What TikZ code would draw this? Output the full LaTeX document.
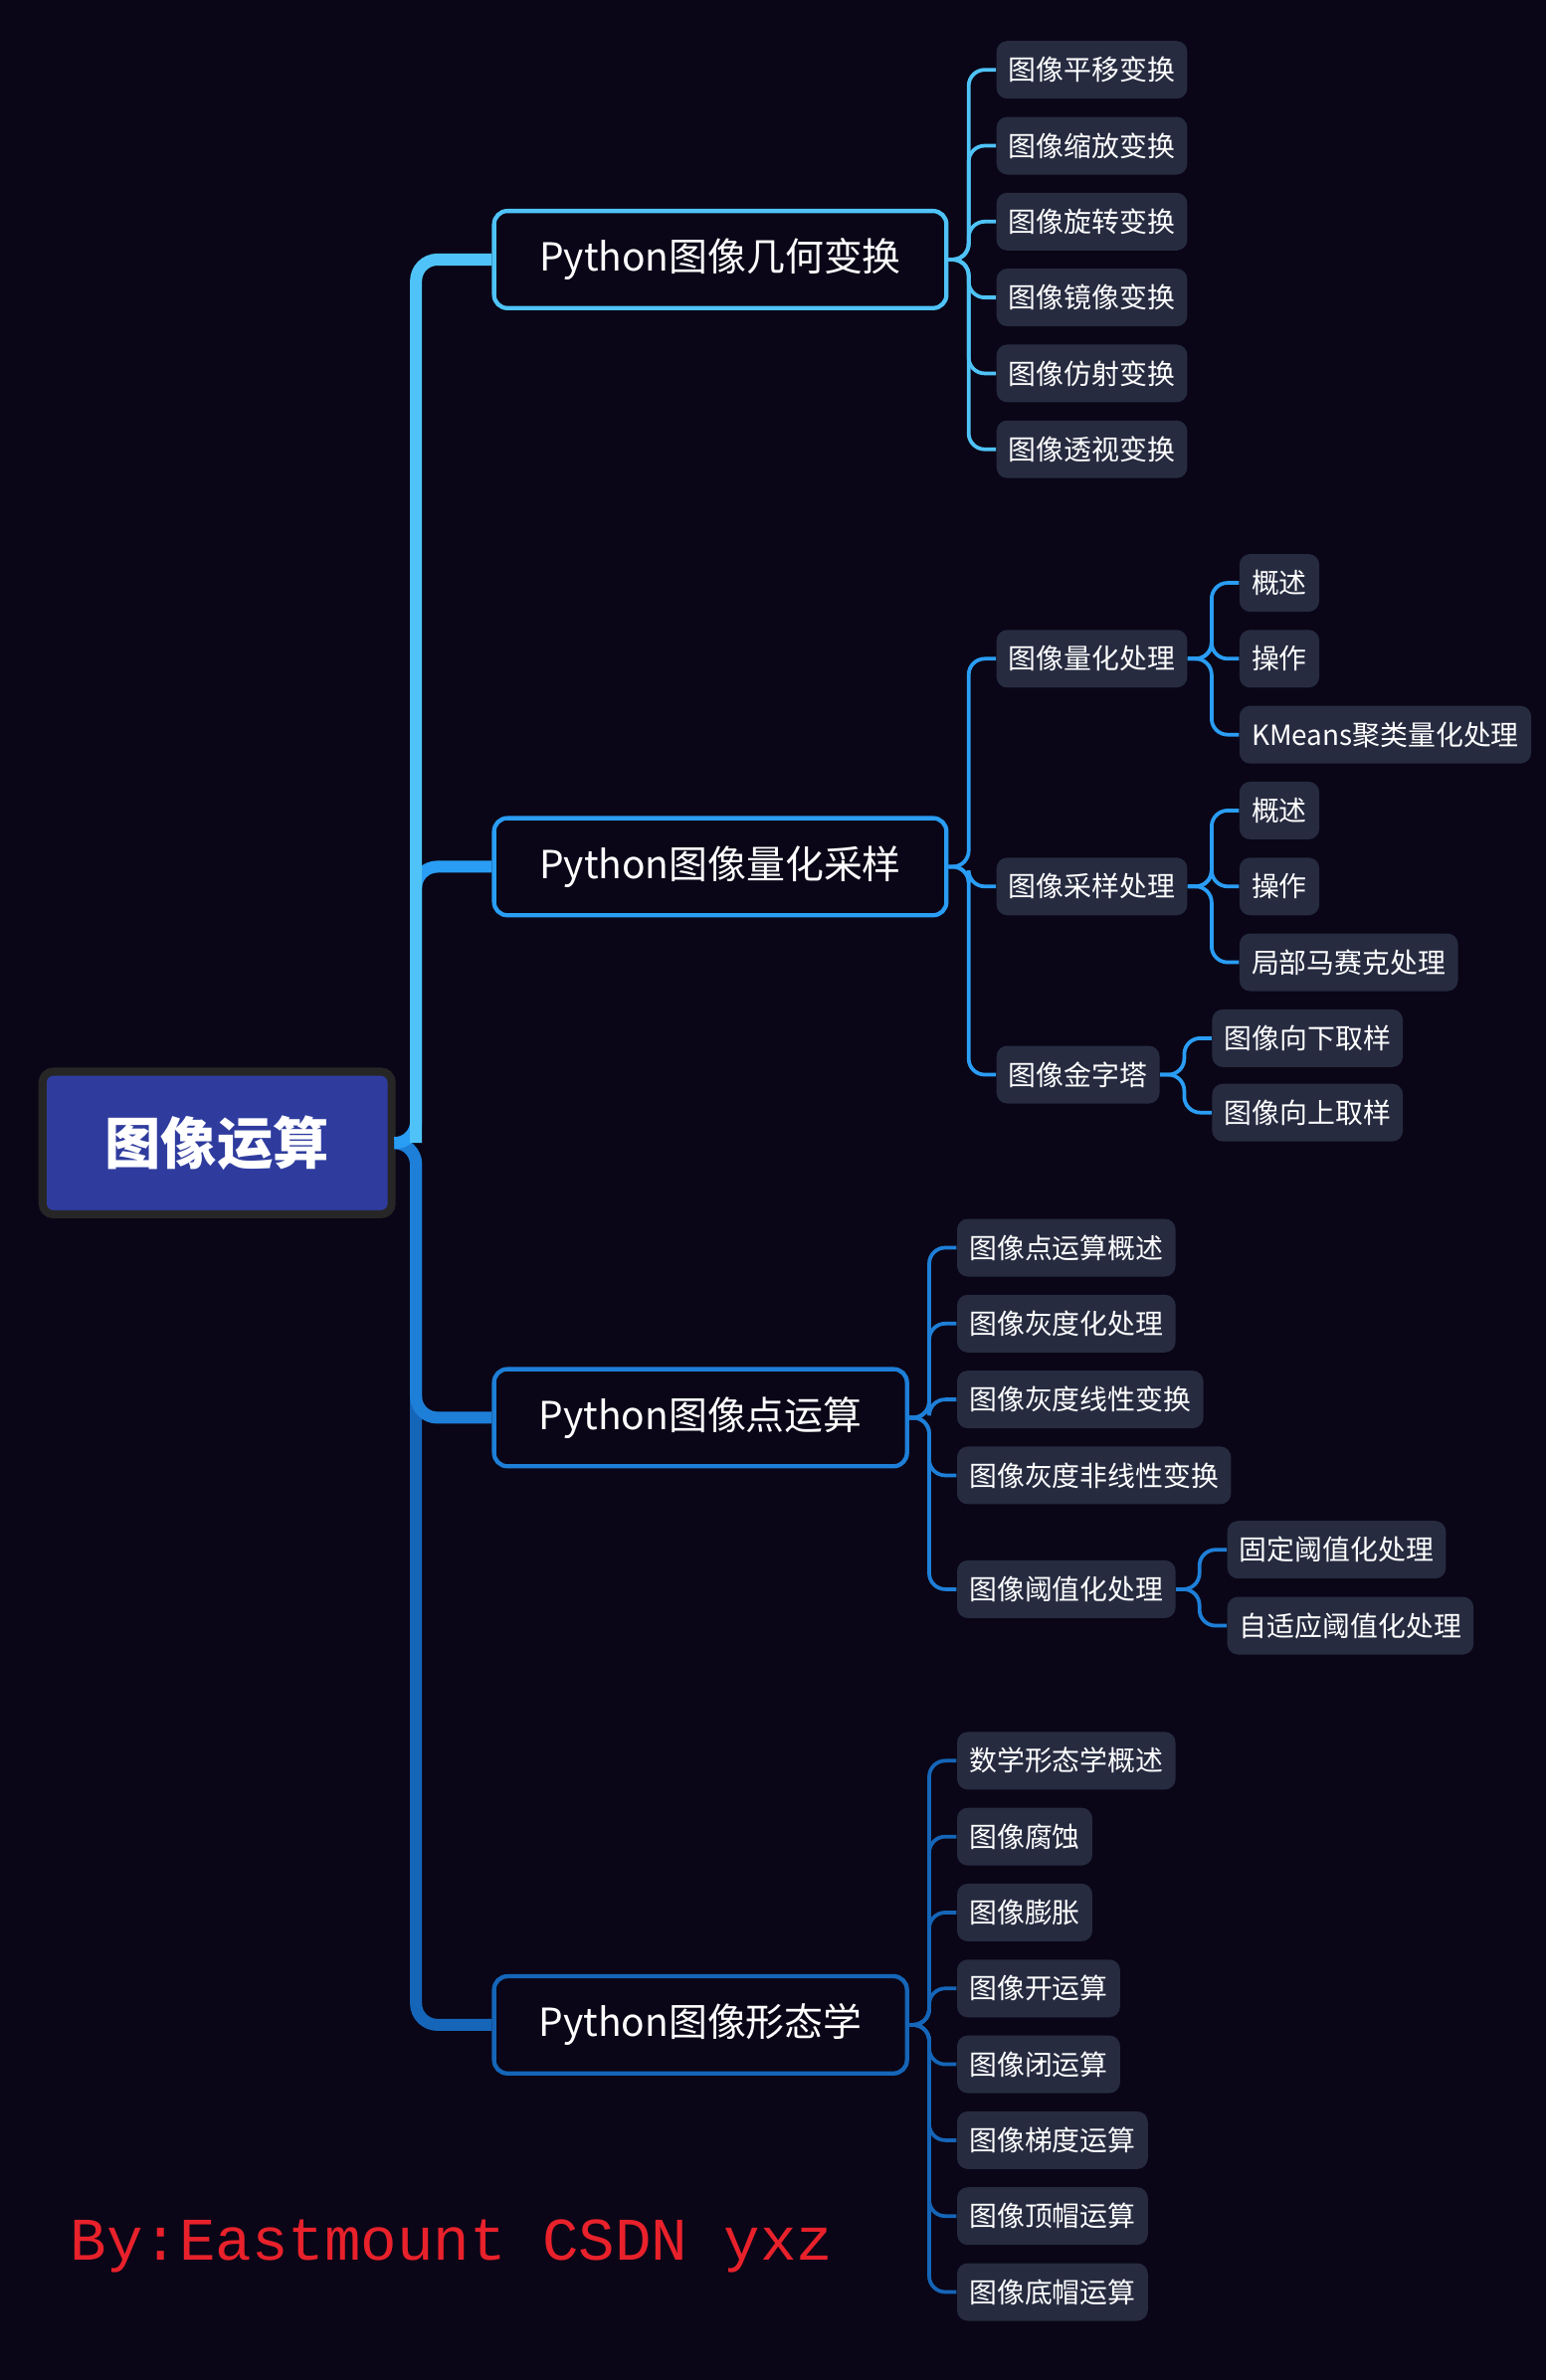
\documentclass[tikz,border=0pt]{standalone}
\usepackage{fontspec}
\setmainfont{Noto Sans CJK SC}
\setmonofont{Liberation Mono}
\usetikzlibrary{positioning}
\definecolor{bgdark}{HTML}{0A0617}
\definecolor{leaffill}{HTML}{262B40}
\definecolor{rootfill}{HTML}{2F3C9E}
\definecolor{cA}{HTML}{4FC3F7}
\definecolor{cB}{HTML}{2A9DF4}
\definecolor{cC}{HTML}{1E7FD8}
\definecolor{cD}{HTML}{1565B8}
\definecolor{signred}{HTML}{E8212B}
\begin{document}
\begin{tikzpicture}[x=0.02cm, y=-0.02cm,
    root/.style={draw=black!70!gray, line width=3pt, fill=rootfill, rounded corners=4pt,
        minimum width=4.6cm, minimum height=1.88cm, text=white, font=\fontsize{21}{24}\selectfont\bfseries},
    topic/.style={draw=#1, line width=1.6pt, fill=bgdark, rounded corners=5pt, anchor=west,
        minimum height=1.28cm, text=white, font=\fontsize{14.5}{17}\selectfont},
    leaf/.style={fill=leaffill, rounded corners=4pt, anchor=west, minimum height=0.76cm,
        inner xsep=0.16cm, text=white, font=\fontsize{10.4}{12}\selectfont},
    trunk/.style={line width=4.5pt, rounded corners=8pt},
    link/.style={line width=1.4pt, rounded corners=6pt}]
  \fill[bgdark] (0,0) rectangle (1018,1568);

  \node[root] (root) at (143,753) {图像运算};
  \node[topic=cA, minimum width=5.96cm] (geo) at (324,171) {Python图像几何变换};
  \node[topic=cB, minimum width=5.96cm] (qua) at (324,571) {Python图像量化采样};
  \node[topic=cC, minimum width=5.44cm] (pnt) at (324,934) {Python图像点运算};
  \node[topic=cD, minimum width=5.44cm] (mor) at (324,1334) {Python图像形态学};

  \coordinate (tr) at (274,0);
  \draw[trunk, cD] (root.east) -- (root.east -| tr) |- (mor.west);
  \draw[trunk, cC] (root.east) -- (root.east -| tr) |- (pnt.west);
  \draw[trunk, cB] (root.east) -- (root.east -| tr) |- (qua.west);
  \draw[trunk, cA] (root.east -| tr) |- (geo.west);

  % geometric transforms
  \coordinate (b1) at (638,0);
  \foreach \t [count=\i] in {图像平移变换,图像缩放变换,图像旋转变换,图像镜像变换,图像仿射变换,图像透视变换}{
    \node[leaf] (geo\i) at (656,{-4+50*\i}) {\t};
    \draw[link, cA] (geo.east) -- (geo.east -| b1) |- (geo\i.west);
  }

  % quantization and sampling
  \coordinate (b2) at (638,0);
  \node[leaf] (qq) at (656,434) {图像量化处理};
  \node[leaf] (qs) at (656,584) {图像采样处理};
  \node[leaf] (qp) at (656,708) {图像金字塔};
  \foreach \n in {qq,qs,qp}
    \draw[link, cB] (qua.east) -- (qua.east -| b2) |- (\n.west);
  \coordinate (b3) at (798,0);
  \node[leaf] (qq1) at (816,384) {概述};
  \node[leaf] (qq2) at (816,434) {操作};
  \node[leaf] (qq3) at (816,484) {KMeans聚类量化处理};
  \node[leaf] (qs1) at (816,534) {概述};
  \node[leaf] (qs2) at (816,584) {操作};
  \node[leaf] (qs3) at (816,634) {局部马赛克处理};
  \foreach \i in {1,2,3}{
    \draw[link, cB] (qq.east) -- (qq.east -| b3) |- (qq\i.west);
    \draw[link, cB] (qs.east) -- (qs.east -| b3) |- (qs\i.west);
  }
  \coordinate (b4) at (780,0);
  \node[leaf] (qp1) at (798,684) {图像向下取样};
  \node[leaf] (qp2) at (798,733) {图像向上取样};
  \foreach \i in {1,2}
    \draw[link, cB] (qp.east) -- (qp.east -| b4) |- (qp\i.west);

  % point operations
  \coordinate (b5) at (612,0);
  \node[leaf] (pt1) at (630,822) {图像点运算概述};
  \node[leaf] (pt2) at (630,872) {图像灰度化处理};
  \node[leaf] (pt3) at (630,922) {图像灰度线性变换};
  \node[leaf] (pt4) at (630,972) {图像灰度非线性变换};
  \node[leaf] (pt5) at (630,1047) {图像阈值化处理};
  \foreach \i in {1,...,5}
    \draw[link, cC] (pnt.east) -- (pnt.east -| b5) |- (pt\i.west);
  \coordinate (b6) at (790,0);
  \node[leaf] (th1) at (808,1021) {固定阈值化处理};
  \node[leaf] (th2) at (808,1071) {自适应阈值化处理};
  \foreach \i in {1,2}
    \draw[link, cC] (pt5.east) -- (pt5.east -| b6) |- (th\i.west);

  % morphology
  \coordinate (b7) at (612,0);
  \foreach \t [count=\i] in {数学形态学概述,图像腐蚀,图像膨胀,图像开运算,图像闭运算,图像梯度运算,图像顶帽运算,图像底帽运算}{
    \node[leaf] (mo\i) at (630,{1110+50*\i}) {\t};
    \draw[link, cD] (mor.east) -- (mor.east -| b7) |- (mo\i.west);
  }

  \node[anchor=west, text=signred, font=\ttfamily\fontsize{22.7}{26}\selectfont] (sign) at (40,1480) {By:Eastmount CSDN yxz};
\end{tikzpicture}
\end{document}
